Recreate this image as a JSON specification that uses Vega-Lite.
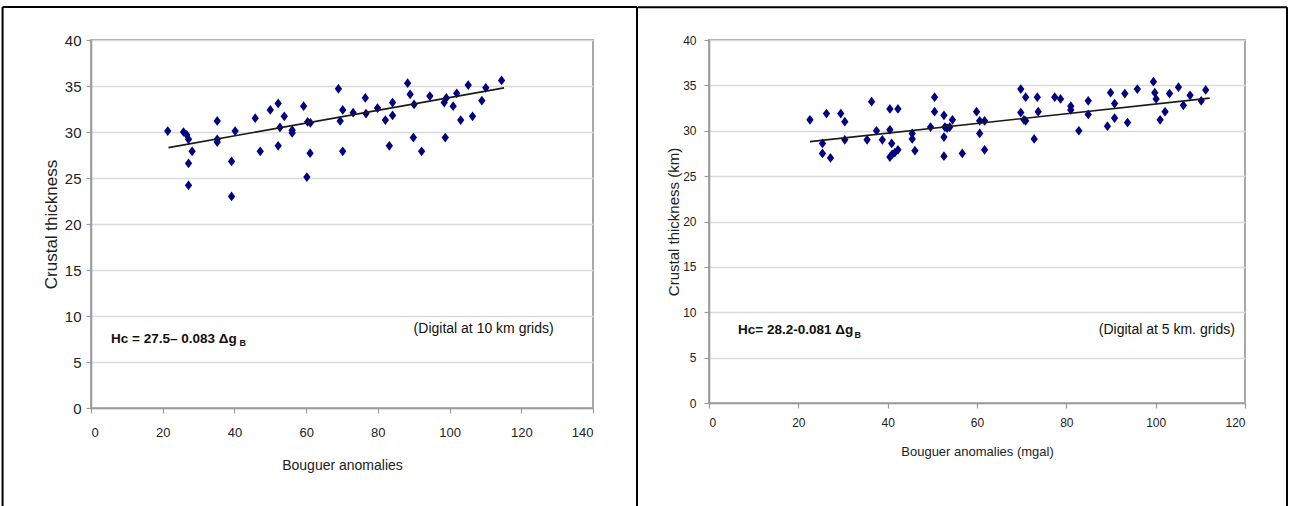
{
  "$schema": "https://vega.github.io/schema/vega-lite/v6.json",
  "background": "white",
  "padding": {"left": 0, "top": 4, "right": 0, "bottom": 0},
  "spacing": -4,
  "datasets": {
    "left": [
      {"bouguer": 21.4, "thickness": 30.1}, {"bouguer": 25.8, "thickness": 30.0}, {"bouguer": 26.7, "thickness": 29.7},
      {"bouguer": 27.2, "thickness": 29.2}, {"bouguer": 28.2, "thickness": 27.9}, {"bouguer": 27.2, "thickness": 26.6},
      {"bouguer": 27.2, "thickness": 24.2}, {"bouguer": 35.2, "thickness": 31.2}, {"bouguer": 35.2, "thickness": 28.9},
      {"bouguer": 35.2, "thickness": 29.2}, {"bouguer": 40.2, "thickness": 30.1}, {"bouguer": 39.2, "thickness": 26.8},
      {"bouguer": 39.2, "thickness": 23.0}, {"bouguer": 45.8, "thickness": 31.5}, {"bouguer": 47.2, "thickness": 27.9},
      {"bouguer": 50.0, "thickness": 32.4}, {"bouguer": 52.2, "thickness": 33.1}, {"bouguer": 53.9, "thickness": 31.7},
      {"bouguer": 52.7, "thickness": 30.5}, {"bouguer": 52.2, "thickness": 28.5}, {"bouguer": 56.1, "thickness": 30.2},
      {"bouguer": 56.1, "thickness": 29.9}, {"bouguer": 59.3, "thickness": 32.8}, {"bouguer": 60.4, "thickness": 31.1},
      {"bouguer": 61.2, "thickness": 31.0}, {"bouguer": 61.1, "thickness": 27.7}, {"bouguer": 60.2, "thickness": 25.1},
      {"bouguer": 69.0, "thickness": 34.7}, {"bouguer": 70.2, "thickness": 32.4}, {"bouguer": 69.5, "thickness": 31.2},
      {"bouguer": 70.2, "thickness": 27.9}, {"bouguer": 73.1, "thickness": 32.1}, {"bouguer": 76.5, "thickness": 33.7},
      {"bouguer": 76.7, "thickness": 32.0}, {"bouguer": 79.9, "thickness": 32.6}, {"bouguer": 82.1, "thickness": 31.3},
      {"bouguer": 84.1, "thickness": 33.2}, {"bouguer": 84.1, "thickness": 31.8}, {"bouguer": 83.2, "thickness": 28.5},
      {"bouguer": 88.3, "thickness": 35.3}, {"bouguer": 89.0, "thickness": 34.1}, {"bouguer": 90.1, "thickness": 33.0},
      {"bouguer": 89.9, "thickness": 29.4}, {"bouguer": 92.2, "thickness": 27.9}, {"bouguer": 94.5, "thickness": 33.9},
      {"bouguer": 98.5, "thickness": 33.2}, {"bouguer": 99.1, "thickness": 33.7}, {"bouguer": 101.0, "thickness": 32.8},
      {"bouguer": 98.8, "thickness": 29.4}, {"bouguer": 102.0, "thickness": 34.2}, {"bouguer": 103.1, "thickness": 31.3},
      {"bouguer": 105.2, "thickness": 35.1}, {"bouguer": 106.4, "thickness": 31.7}, {"bouguer": 109.0, "thickness": 33.4},
      {"bouguer": 110.1, "thickness": 34.8}, {"bouguer": 114.5, "thickness": 35.6}
    ],
    "leftfit": [{"bouguer": 21.6, "thickness": 28.3}, {"bouguer": 115.2, "thickness": 34.8}],
    "right": [
      {"bouguer": 22.6, "thickness": 31.2}, {"bouguer": 25.4, "thickness": 28.6}, {"bouguer": 25.4, "thickness": 27.5},
      {"bouguer": 27.2, "thickness": 27.0}, {"bouguer": 26.3, "thickness": 31.9}, {"bouguer": 29.5, "thickness": 31.9},
      {"bouguer": 30.4, "thickness": 31.0}, {"bouguer": 30.4, "thickness": 29.0}, {"bouguer": 35.4, "thickness": 29.0},
      {"bouguer": 36.4, "thickness": 33.2}, {"bouguer": 37.5, "thickness": 30.0}, {"bouguer": 38.8, "thickness": 29.0},
      {"bouguer": 40.5, "thickness": 32.4}, {"bouguer": 42.3, "thickness": 32.4}, {"bouguer": 40.5, "thickness": 30.1},
      {"bouguer": 40.9, "thickness": 28.6}, {"bouguer": 42.3, "thickness": 27.9}, {"bouguer": 41.6, "thickness": 27.6},
      {"bouguer": 41.0, "thickness": 27.4}, {"bouguer": 40.5, "thickness": 27.1}, {"bouguer": 45.5, "thickness": 29.7},
      {"bouguer": 45.5, "thickness": 29.1}, {"bouguer": 46.1, "thickness": 27.8}, {"bouguer": 49.6, "thickness": 30.4},
      {"bouguer": 50.5, "thickness": 33.7}, {"bouguer": 50.5, "thickness": 32.1}, {"bouguer": 52.6, "thickness": 31.7},
      {"bouguer": 52.8, "thickness": 30.4}, {"bouguer": 53.3, "thickness": 30.3}, {"bouguer": 53.9, "thickness": 30.4},
      {"bouguer": 54.5, "thickness": 31.2}, {"bouguer": 52.6, "thickness": 29.3}, {"bouguer": 52.6, "thickness": 27.2},
      {"bouguer": 56.7, "thickness": 27.5}, {"bouguer": 59.9, "thickness": 32.1}, {"bouguer": 60.6, "thickness": 31.1},
      {"bouguer": 61.7, "thickness": 31.1}, {"bouguer": 60.6, "thickness": 29.7}, {"bouguer": 61.7, "thickness": 27.9},
      {"bouguer": 69.8, "thickness": 34.6}, {"bouguer": 70.9, "thickness": 33.7}, {"bouguer": 73.5, "thickness": 33.7},
      {"bouguer": 69.8, "thickness": 32.0}, {"bouguer": 70.5, "thickness": 31.2}, {"bouguer": 70.9, "thickness": 31.1},
      {"bouguer": 73.7, "thickness": 32.1}, {"bouguer": 72.8, "thickness": 29.1}, {"bouguer": 77.4, "thickness": 33.7},
      {"bouguer": 78.7, "thickness": 33.5}, {"bouguer": 81.0, "thickness": 32.7}, {"bouguer": 81.0, "thickness": 32.3},
      {"bouguer": 84.9, "thickness": 33.3}, {"bouguer": 84.9, "thickness": 31.8}, {"bouguer": 82.8, "thickness": 30.0},
      {"bouguer": 89.9, "thickness": 34.2}, {"bouguer": 90.8, "thickness": 33.0}, {"bouguer": 90.8, "thickness": 31.4},
      {"bouguer": 89.2, "thickness": 30.5}, {"bouguer": 93.1, "thickness": 34.1}, {"bouguer": 93.7, "thickness": 30.9},
      {"bouguer": 95.9, "thickness": 34.6}, {"bouguer": 99.5, "thickness": 35.4}, {"bouguer": 99.8, "thickness": 34.2},
      {"bouguer": 100.1, "thickness": 33.5}, {"bouguer": 102.1, "thickness": 32.1}, {"bouguer": 101.0, "thickness": 31.2},
      {"bouguer": 103.1, "thickness": 34.1}, {"bouguer": 105.1, "thickness": 34.8}, {"bouguer": 106.2, "thickness": 32.8},
      {"bouguer": 107.7, "thickness": 33.9}, {"bouguer": 110.2, "thickness": 33.3}, {"bouguer": 111.2, "thickness": 34.5}
    ],
    "rightfit": [{"bouguer": 22.6, "thickness": 28.8}, {"bouguer": 112.1, "thickness": 33.6}]
  },
  "hconcat": [
    {
      "width": 502,
      "height": 368,
      "view": {"stroke": "#a8a8a8", "strokeWidth": 2},
      "layer": [
        {
          "data": {"name": "left"},
          "mark": {"type": "point", "shape": "M0,-1L0.75,0L0,1L-0.75,0Z", "filled": true, "color": "#000080", "size": 95, "opacity": 1},
          "encoding": {
            "x": {"field": "bouguer", "type": "quantitative", "scale": {"domain": [0, 140], "nice": false, "zero": false},
              "axis": {"values": [0, 20, 40, 60, 80, 100, 120, 140], "grid": false, "tickSize": 5, "labelFontSize": 13, "labelPadding": 13, "title": "Bouguer anomalies", "titleFontSize": 14, "titlePadding": 19}},
            "y": {"field": "thickness", "type": "quantitative", "scale": {"domain": [0, 40], "nice": false, "zero": false},
              "axis": {"values": [0, 5, 10, 15, 20, 25, 30, 35, 40], "grid": true, "tickSize": 5, "labelFontSize": 15, "labelPadding": 5, "title": "Crustal thickness", "titleFontSize": 17, "titlePadding": 4}}
          }
        },
        {
          "data": {"name": "leftfit"},
          "mark": {"type": "line", "color": "#1a1a1a", "strokeWidth": 1.6},
          "encoding": {"x": {"field": "bouguer", "type": "quantitative"}, "y": {"field": "thickness", "type": "quantitative"}}
        },
        {
          "data": {"values": [{}]},
          "mark": {"type": "text", "align": "left", "baseline": "middle", "fontSize": 13.5, "fontWeight": "bold", "color": "#111"},
          "encoding": {"x": {"datum": 5.6, "type": "quantitative"}, "y": {"datum": 7.5, "type": "quantitative"}, "text": {"value": "Hc = 27.5– 0.083 Δg"}}
        },
        {
          "data": {"values": [{}]},
          "mark": {"type": "text", "align": "left", "baseline": "middle", "fontSize": 9, "fontWeight": "bold", "color": "#111"},
          "encoding": {"x": {"datum": 41.4, "type": "quantitative"}, "y": {"datum": 7.05, "type": "quantitative"}, "text": {"value": "B"}}
        },
        {
          "data": {"values": [{}]},
          "mark": {"type": "text", "align": "center", "baseline": "middle", "fontSize": 14, "color": "#111"},
          "encoding": {"x": {"datum": 109.5, "type": "quantitative"}, "y": {"datum": 8.6, "type": "quantitative"}, "text": {"value": "(Digital at 10 km grids)"}}
        },
        {
          "data": {"values": [{}]},
          "mark": {"type": "rule", "clip": false, "color": "#000", "strokeWidth": 2},
          "encoding": {"x": {"datum": -24.66, "type": "quantitative"}, "x2": {"datum": 152.27}, "y": {"datum": 43.59, "type": "quantitative"}}
        },
        {
          "data": {"values": [{}]},
          "mark": {"type": "rule", "clip": false, "color": "#000", "strokeWidth": 2},
          "encoding": {"x": {"datum": -24.66, "type": "quantitative"}, "y": {"datum": 43.59, "type": "quantitative"}, "y2": {"datum": -12}}
        },
        {
          "data": {"values": [{}]},
          "mark": {"type": "rule", "clip": false, "color": "#000", "strokeWidth": 2},
          "encoding": {"x": {"datum": 152.27, "type": "quantitative"}, "y": {"datum": 43.59, "type": "quantitative"}, "y2": {"datum": -12}}
        }
      ]
    },
    {
      "width": 536,
      "height": 363,
      "view": {"stroke": "#a8a8a8", "strokeWidth": 2},
      "layer": [
        {
          "data": {"name": "right"},
          "mark": {"type": "point", "shape": "M0,-1L0.75,0L0,1L-0.75,0Z", "filled": true, "color": "#000080", "size": 95, "opacity": 1},
          "encoding": {
            "x": {"field": "bouguer", "type": "quantitative", "scale": {"domain": [0, 120], "nice": false, "zero": false},
              "axis": {"values": [0, 20, 40, 60, 80, 100, 120], "grid": false, "tickSize": 5, "labelFontSize": 12, "labelPadding": 9, "title": "Bouguer anomalies (mgal)", "titleFontSize": 13, "titlePadding": 17}},
            "y": {"field": "thickness", "type": "quantitative", "scale": {"domain": [0, 40], "nice": false, "zero": false},
              "axis": {"values": [0, 5, 10, 15, 20, 25, 30, 35, 40], "grid": true, "tickSize": 5, "labelFontSize": 12, "labelPadding": 8, "title": "Crustal thickness (km)", "titleFontSize": 15, "titlePadding": 1}}
          }
        },
        {
          "data": {"name": "rightfit"},
          "mark": {"type": "line", "color": "#1a1a1a", "strokeWidth": 1.6},
          "encoding": {"x": {"field": "bouguer", "type": "quantitative"}, "y": {"field": "thickness", "type": "quantitative"}}
        },
        {
          "data": {"values": [{}]},
          "mark": {"type": "text", "align": "left", "baseline": "middle", "fontSize": 13.5, "fontWeight": "bold", "color": "#111"},
          "encoding": {"x": {"datum": 6.5, "type": "quantitative"}, "y": {"datum": 8.0, "type": "quantitative"}, "text": {"value": "Hc= 28.2-0.081 Δg"}}
        },
        {
          "data": {"values": [{}]},
          "mark": {"type": "text", "align": "left", "baseline": "middle", "fontSize": 9, "fontWeight": "bold", "color": "#111"},
          "encoding": {"x": {"datum": 32.6, "type": "quantitative"}, "y": {"datum": 7.5, "type": "quantitative"}, "text": {"value": "B"}}
        },
        {
          "data": {"values": [{}]},
          "mark": {"type": "text", "align": "center", "baseline": "middle", "fontSize": 14, "color": "#111"},
          "encoding": {"x": {"datum": 102.5, "type": "quantitative"}, "y": {"datum": 8.0, "type": "quantitative"}, "text": {"value": "(Digital at 5 km. grids)"}}
        },
        {
          "data": {"values": [{}]},
          "mark": {"type": "rule", "clip": false, "color": "#000", "strokeWidth": 2},
          "encoding": {"x": {"datum": -15.9, "type": "quantitative"}, "x2": {"datum": 129.4}, "y": {"datum": 43.6, "type": "quantitative"}}
        },
        {
          "data": {"values": [{}]},
          "mark": {"type": "rule", "clip": false, "color": "#000", "strokeWidth": 2},
          "encoding": {"x": {"datum": 129.4, "type": "quantitative"}, "y": {"datum": 43.6, "type": "quantitative"}, "y2": {"datum": -12}}
        }
      ]
    }
  ],
  "config": {
    "font": "Liberation Sans, sans-serif",
    "axis": {
      "domainColor": "#9a9a9a",
      "domainWidth": 1.5,
      "tickColor": "#9a9a9a",
      "tickWidth": 1.2,
      "gridColor": "#dadada",
      "gridWidth": 1.5,
      "labelColor": "#222222",
      "titleColor": "#222222",
      "titleFontWeight": "normal",
      "labelFont": "Liberation Sans, sans-serif",
      "titleFont": "Liberation Sans, sans-serif"
    },
    "text": {"font": "Liberation Sans, sans-serif"}
  }
}
